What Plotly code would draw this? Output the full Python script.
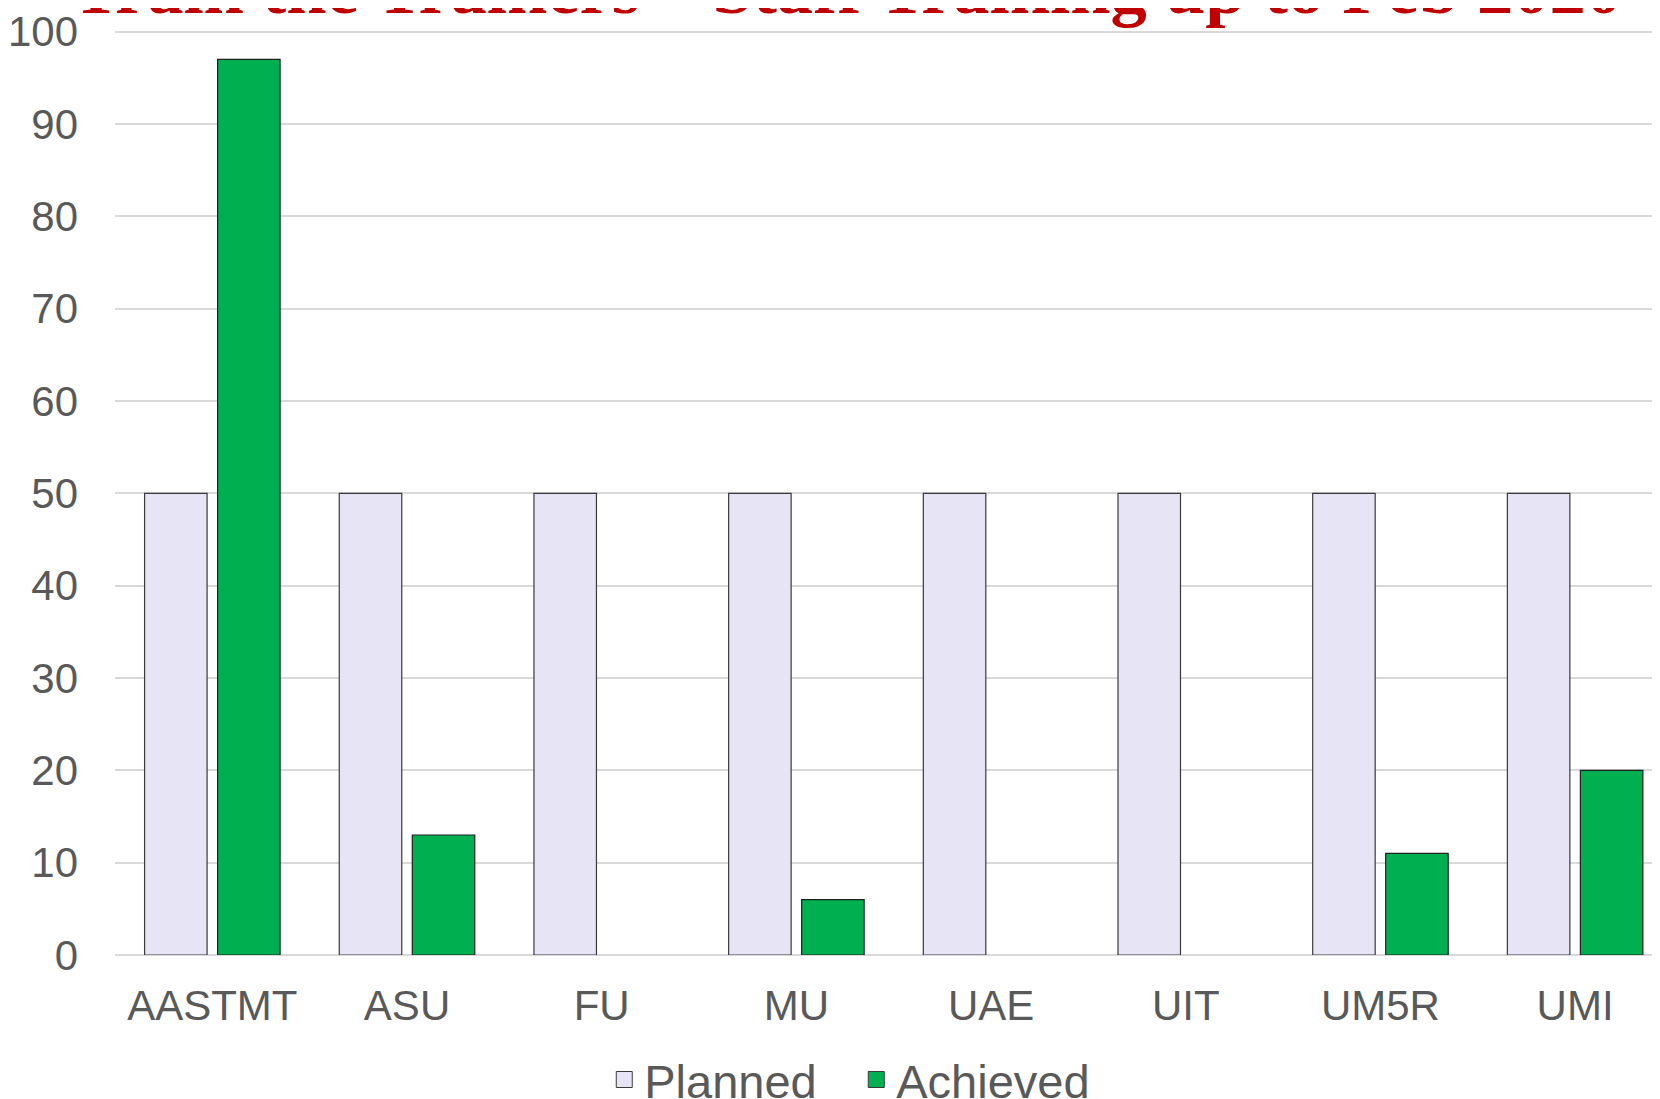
import plotly.graph_objects as go

categories = ["AASTMT", "ASU", "FU", "MU", "UAE", "UIT", "UM5R", "UMI"]
planned = [50, 50, 50, 50, 50, 50, 50, 50]
achieved = [97, 13, 0, 6, 0, 0, 11, 20]
y_ticks = [0, 10, 20, 30, 40, 50, 60, 70, 80, 90, 100]
title_text = "Train the Trainers \u2013 Staff Training up to Feb 2020"

PLANNED_COLOR = "#E6E4F5"
ACHIEVED_COLOR = "#00B050"

fig = go.Figure()
fig.add_trace(go.Bar(
    name="Planned", x=categories, y=planned, showlegend=False,
    marker=dict(color=PLANNED_COLOR,
                line=dict(color="#3a3a3a", width=[1.2 if v > 0 else 0 for v in planned])),
))
fig.add_trace(go.Bar(
    name="Achieved", x=categories, y=achieved, showlegend=False,
    marker=dict(color=ACHIEVED_COLOR,
                line=dict(color="#1f1f1f", width=[1.2 if v > 0 else 0 for v in achieved])),
))
# legend entries (larger square swatches)
for nm, col in [("Planned", PLANNED_COLOR), ("Achieved", ACHIEVED_COLOR)]:
    fig.add_trace(go.Scatter(
        name=nm, x=[None], y=[None], mode="markers",
        marker=dict(symbol="square", size=16, color=col, line=dict(color="#3a3a3a", width=1)),
        hoverinfo="skip",
    ))

fig.update_layout(
    width=1660, height=1099,
    margin=dict(l=107, r=8, t=21.2, b=152, autoexpand=False),
    paper_bgcolor="white", plot_bgcolor="white",
    barmode="group", bargap=0.25, bargroupgap=0.144,
    font=dict(family="Liberation Sans, Arial, sans-serif", color="#595959", size=42),
    showlegend=True,
    legend=dict(
        orientation="h", xref="container", yref="container",
        x=0.511, xanchor="center", y=0.0246, yanchor="middle",
        font=dict(size=47, color="#595959"),
        bgcolor="rgba(0,0,0,0)", itemsizing="trace",
        entrywidth=207, entrywidthmode="pixels",
    ),
    annotations=[dict(
        text="<b>" + title_text + "</b>",
        xref="paper", yref="paper",
        x=0.474, xanchor="center",
        y=1, yanchor="middle", yshift=41,
        showarrow=False,
        font=dict(family="Liberation Serif, Times New Roman, serif", size=72.5, color="#C00000"),
    )],
)

fig.update_xaxes(
    range=[-0.5, 7.436], showgrid=False, showline=False, zeroline=False,
    ticks="", ticklabelstandoff=22, automargin=False,
    tickfont=dict(size=42, color="#595959"),
)
fig.update_yaxes(
    range=[0, 100.3], tickvals=y_ticks, showgrid=True, gridcolor="#D9D9D9", gridwidth=1.6,
    zeroline=True, zerolinecolor="#D9D9D9", zerolinewidth=2,
    showline=False, ticks="", ticklabelstandoff=36, automargin=False,
    tickfont=dict(size=42, color="#595959"),
)

fig.write_html("out.html")
